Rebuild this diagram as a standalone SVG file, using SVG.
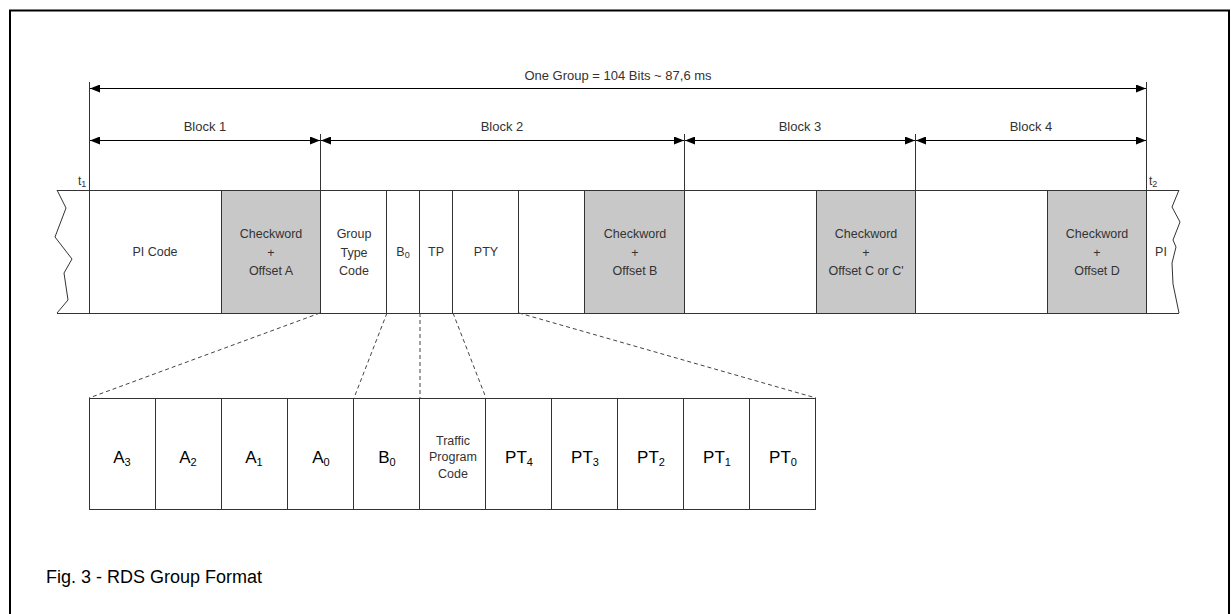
<svg xmlns="http://www.w3.org/2000/svg" width="1231" height="614" viewBox="0 0 1231 614">
<style>
text{font-family:"Liberation Sans",Arial,sans-serif;fill:#333}
.lbl{font-size:13px;text-anchor:middle}
.cell{font-size:12.5px;text-anchor:middle}
.big{font-size:17px;text-anchor:middle;fill:#000}
.sub{font-size:11px}
.ln{stroke:#333;stroke-width:1;fill:none}
.dim{stroke:#000;stroke-width:1;fill:none;marker-start:url(#ah);marker-end:url(#ah)}
.box{fill:#fff;stroke:#333;stroke-width:1}
.gray{fill:#c8c8c8;stroke:#333;stroke-width:1}
.dash{stroke:#444;stroke-width:1;stroke-dasharray:4 3;fill:none}
</style>
<defs>
<marker id="ah" markerUnits="userSpaceOnUse" markerWidth="10" markerHeight="8" refX="10" refY="4" orient="auto-start-reverse">
<path d="M0,0 L10,4 L0,8 Z" fill="#000"/>
</marker>
</defs>
<rect x="0" y="0" width="1231" height="614" fill="#fff"/>
<path d="M10,614 V10.5 H1229 V614" fill="none" stroke="#000" stroke-width="2"/>

<g id="dimensions">
<line class="ln" x1="89.5" y1="82" x2="89.5" y2="313"/>
<line class="ln" x1="1146.5" y1="82" x2="1146.5" y2="313"/>
<line class="ln" x1="320.5" y1="134" x2="320.5" y2="313"/>
<line class="ln" x1="684.5" y1="134" x2="684.5" y2="190"/>
<line class="ln" x1="915.5" y1="134" x2="915.5" y2="190"/>
<line class="dim" x1="90" y1="88.5" x2="1146" y2="88.5"/>
<line class="dim" x1="90" y1="140.5" x2="320" y2="140.5"/>
<line class="dim" x1="321" y1="140.5" x2="684" y2="140.5"/>
<line class="dim" x1="685" y1="140.5" x2="915" y2="140.5"/>
<line class="dim" x1="916" y1="140.5" x2="1146" y2="140.5"/>
<text class="lbl" x="618" y="80">One Group = 104 Bits ~ 87,6 ms</text>
<text class="lbl" x="205" y="131">Block 1</text>
<text class="lbl" x="502" y="131">Block 2</text>
<text class="lbl" x="800" y="131">Block 3</text>
<text class="lbl" x="1031" y="131">Block 4</text>
<text x="78" y="185" font-size="12">t<tspan font-size="9" dy="2">1</tspan></text>
<text x="1149" y="185" font-size="12">t<tspan font-size="9" dy="2">2</tspan></text>
</g>

<g id="group-row">
<line class="ln" x1="57" y1="190.5" x2="1179" y2="190.5"/>
<line class="ln" x1="57" y1="313.5" x2="1179" y2="313.5"/>
<polyline class="ln" points="57,190 66,208 55,237 72,259 64,273 68,300 57,313"/>
<polyline class="ln" points="1179,190 1172,207 1180,222 1173,240 1176,247 1172,263 1173,284 1179,313"/>
</g>

<g id="pi-code"><rect class="box" x="89.5" y="190.5" width="132" height="123"/><text class="cell" x="155" y="256">PI Code</text></g>
<g id="checkword-a"><rect class="gray" x="221.5" y="190.5" width="99" height="123"/><text class="cell" x="271" y="238">Checkword</text><text class="cell" x="271" y="257">+</text><text class="cell" x="271" y="275">Offset A</text></g>
<g id="group-type-code"><rect class="box" x="320.5" y="190.5" width="66" height="123"/><text class="cell" x="354" y="238">Group</text><text class="cell" x="354" y="257">Type</text><text class="cell" x="354" y="275">Code</text></g>
<g id="b0"><rect class="box" x="386.5" y="190.5" width="33" height="123"/><text class="cell" x="403" y="256">B<tspan font-size="9" dy="2">0</tspan></text></g>
<g id="tp"><rect class="box" x="419.5" y="190.5" width="33" height="123"/><text class="cell" x="436" y="256">TP</text></g>
<g id="pty"><rect class="box" x="452.5" y="190.5" width="66" height="123"/><text class="cell" x="486" y="256">PTY</text></g>
<g id="block2-data"><rect class="box" x="518.5" y="190.5" width="66" height="123"/></g>
<g id="checkword-b"><rect class="gray" x="584.5" y="190.5" width="100" height="123"/><text class="cell" x="635" y="238">Checkword</text><text class="cell" x="635" y="257">+</text><text class="cell" x="635" y="275">Offset B</text></g>
<g id="block3-data"><rect class="box" x="684.5" y="190.5" width="132" height="123"/></g>
<g id="checkword-c"><rect class="gray" x="816.5" y="190.5" width="99" height="123"/><text class="cell" x="866" y="238">Checkword</text><text class="cell" x="866" y="257">+</text><text class="cell" x="866" y="275">Offset C or C'</text></g>
<g id="block4-data"><rect class="box" x="915.5" y="190.5" width="132" height="123"/></g>
<g id="checkword-d"><rect class="gray" x="1047.5" y="190.5" width="99" height="123"/><text class="cell" x="1097" y="238">Checkword</text><text class="cell" x="1097" y="257">+</text><text class="cell" x="1097" y="275">Offset D</text></g>
<g id="next-pi"><text class="cell" x="1161" y="256">PI</text></g>

<g id="connectors">
<line class="dash" x1="320" y1="313" x2="89" y2="398"/>
<line class="dash" x1="387" y1="313" x2="354" y2="398"/>
<line class="dash" x1="420" y1="313" x2="420" y2="398"/>
<line class="dash" x1="453" y1="313" x2="486" y2="398"/>
<line class="dash" x1="519" y1="313" x2="816" y2="398"/>
</g>

<g id="bit-a3"><rect class="box" x="89.5" y="398.5" width="66" height="111"/><text class="big" x="122" y="463">A<tspan class="sub" dy="3">3</tspan></text></g>
<g id="bit-a2"><rect class="box" x="155.5" y="398.5" width="66" height="111"/><text class="big" x="188" y="463">A<tspan class="sub" dy="3">2</tspan></text></g>
<g id="bit-a1"><rect class="box" x="221.5" y="398.5" width="66" height="111"/><text class="big" x="254" y="463">A<tspan class="sub" dy="3">1</tspan></text></g>
<g id="bit-a0"><rect class="box" x="287.5" y="398.5" width="66" height="111"/><text class="big" x="321" y="463">A<tspan class="sub" dy="3">0</tspan></text></g>
<g id="bit-b0"><rect class="box" x="353.5" y="398.5" width="66" height="111"/><text class="big" x="387" y="463">B<tspan class="sub" dy="3">0</tspan></text></g>
<g id="bit-tp"><rect class="box" x="419.5" y="398.5" width="66" height="111"/><text class="cell" x="453" y="445">Traffic</text><text class="cell" x="453" y="461">Program</text><text class="cell" x="453" y="478">Code</text></g>
<g id="bit-pt4"><rect class="box" x="485.5" y="398.5" width="66" height="111"/><text class="big" x="519" y="463">PT<tspan class="sub" dy="3">4</tspan></text></g>
<g id="bit-pt3"><rect class="box" x="551.5" y="398.5" width="66" height="111"/><text class="big" x="585" y="463">PT<tspan class="sub" dy="3">3</tspan></text></g>
<g id="bit-pt2"><rect class="box" x="617.5" y="398.5" width="66" height="111"/><text class="big" x="651" y="463">PT<tspan class="sub" dy="3">2</tspan></text></g>
<g id="bit-pt1"><rect class="box" x="683.5" y="398.5" width="66" height="111"/><text class="big" x="717" y="463">PT<tspan class="sub" dy="3">1</tspan></text></g>
<g id="bit-pt0"><rect class="box" x="749.5" y="398.5" width="66" height="111"/><text class="big" x="783" y="463">PT<tspan class="sub" dy="3">0</tspan></text></g>

<g id="caption"><text x="46" y="583" font-size="18" style="fill:#000">Fig. 3 - RDS Group Format</text></g>
</svg>
